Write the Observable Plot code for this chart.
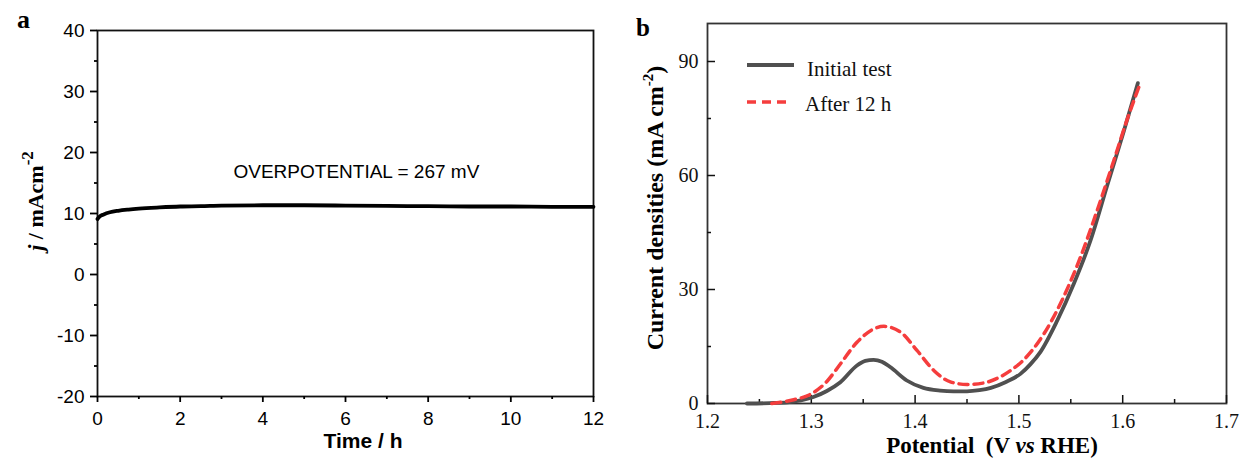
<!DOCTYPE html>
<html><head><meta charset="utf-8">
<script src="https://cdn.jsdelivr.net/npm/d3@7"></script>
<script src="https://cdn.jsdelivr.net/npm/@observablehq/plot@0.6"></script>
<style>
html,body{margin:0;padding:0;background:#fff;}
#wrap{position:relative;width:1243px;height:461px;overflow:hidden;background:#fff;}
#wrap svg{position:absolute;top:0;overflow:visible;}
</style></head><body><div id="wrap"></div>
<script>
// ---- Panel a: chronoamperometry ----
const timeH    = [0, 0.05, 0.15, 0.3, 0.5, 0.75, 1, 1.5, 2, 2.5, 3, 4, 5, 6, 7, 8, 9, 10, 11, 12];
const currentJ = [9.1, 9.5, 9.85, 10.2, 10.45, 10.65, 10.8, 11.0, 11.15, 11.2, 11.3, 11.35, 11.35, 11.3, 11.25, 11.2, 11.15, 11.15, 11.1, 11.1];
const annotationA = "OVERPOTENTIAL = 267 mV";
const xTicksA = [0, 2, 4, 6, 8, 10, 12];
const xMinorA = [1, 3, 5, 7, 9, 11];
const yTicksA = [-20, -10, 0, 10, 20, 30, 40];
const yMinorA = [-15, -5, 5, 15, 25, 35];

// ---- Panel b: LSV curves ----
const seriesNames = ["Initial test", "After 12 h"];
const potInitial = [1.238, 1.26, 1.277, 1.29, 1.302, 1.315, 1.328, 1.344, 1.352, 1.360, 1.368, 1.376, 1.392, 1.408, 1.424, 1.437, 1.450, 1.462, 1.473, 1.487, 1.5015, 1.511, 1.5208, 1.5369, 1.5529, 1.569, 1.585, 1.601, 1.6146];
const curInitial = [0, 0.1, 0.3, 0.8, 1.7, 3.3, 5.6, 10.0, 11.2, 11.5, 11.0, 9.6, 6.05, 4.1, 3.4, 3.2, 3.2, 3.5, 4.1, 5.6, 7.8, 10.3, 13.6, 21.8, 31.5, 42.9, 57.3, 71.6, 84.3];
const potAfter = [1.262, 1.283, 1.299, 1.315, 1.328, 1.344, 1.360, 1.370, 1.386, 1.402, 1.418, 1.434, 1.450, 1.466, 1.479, 1.4915, 1.5047, 1.524, 1.543, 1.5593, 1.5754, 1.5914, 1.604, 1.6155];
const curAfter = [0, 1.0, 2.4, 5.8, 10.4, 16.1, 19.6, 20.3, 18.8, 13.9, 8.7, 5.7, 5.0, 5.4, 6.6, 8.6, 11.5, 18.3, 28, 38.5, 50.8, 63.9, 74.5, 83.2];
const xTicksB = [1.2, 1.3, 1.4, 1.5, 1.6, 1.7];
const xMinorB = [1.25, 1.35, 1.45, 1.55, 1.65];
const yTicksB = [0, 30, 60, 90];
const yMinorB = [15, 45, 75];

const SANS = "'Liberation Sans', Arial, sans-serif";
const SERIF = "'Liberation Serif', 'Times New Roman', serif";
const wrap = document.getElementById("wrap");

// ---------- Panel a ----------
const dataA = timeH.map((t, i) => ({t, j: currentJ[i]}));
const plotA = Plot.plot({
  width: 610, height: 461,
  marginLeft: 97, marginRight: 17, marginTop: 30, marginBottom: 65,
  style: {fontFamily: SANS, fontSize: "19px", color: "#000", background: "transparent", overflow: "visible"},
  x: {domain: [0, 12]},
  y: {domain: [-20, 40]},
  marks: [
    Plot.frame({stroke: "#111", strokeWidth: 1.8}),
    Plot.axisY({ticks: yTicksA, tickSize: 7, tickPadding: 6, tickFormat: d => String(d), label: null, strokeWidth: 1.8}),
    Plot.axisY({ticks: yMinorA, tickSize: 3, tickFormat: () => "", label: null, strokeWidth: 1.8}),
    Plot.axisX({ticks: xTicksA, tickSize: 6, tickPadding: 9, tickFormat: d => String(d), label: null, strokeWidth: 1.8}),
    Plot.axisX({ticks: xMinorA, tickSize: 3, tickFormat: () => "", label: null, strokeWidth: 1.8}),
    Plot.line(dataA, {x: "t", y: "j", stroke: "#000", strokeWidth: 3.8, curve: "monotone-x"}),
    Plot.text([annotationA], {frameAnchor: "top-left", dx: 136, dy: 141, textAnchor: "start", lineAnchor: "middle", fontSize: 19, fill: "#000"})
  ]
});
plotA.style.left = "0px";
wrap.appendChild(plotA);
{
  const s = d3.select(plotA);
  s.append("text").attr("x", 17).attr("y", 28).attr("text-anchor", "start").attr("font-family", SERIF).attr("font-weight", "bold").attr("font-size", 26).attr("fill", "#000").text("a");
  s.append("text").attr("x", 363).attr("y", 448).attr("text-anchor", "middle").attr("font-family", SANS).attr("font-weight", "bold").attr("font-size", 21).attr("fill", "#000").text("Time / h");
  const yl = s.append("text").attr("transform", "translate(43,201) rotate(-90)").attr("text-anchor", "middle")
    .attr("font-family", SERIF).attr("font-weight", "bold").attr("font-size", 22).attr("fill", "#000");
  yl.append("tspan").attr("font-style", "italic").text("j");
  yl.append("tspan").text(" / mAcm");
  yl.append("tspan").attr("font-size", 17).attr("dy", -10).text("-2");
}

// ---------- Panel b ----------
const dataB = [
  ...potInitial.map((p, i) => ({p, c: curInitial[i], s: seriesNames[0]})),
  ...potAfter.map((p, i) => ({p, c: curAfter[i], s: seriesNames[1]}))
];
const plotB = Plot.plot({
  width: 633, height: 461,
  marginLeft: 97, marginRight: 17, marginTop: 23, marginBottom: 58,
  style: {fontFamily: SERIF, fontSize: "20px", color: "#111", background: "transparent", overflow: "visible"},
  x: {domain: [1.2, 1.7]},
  y: {domain: [0, 100]},
  marks: [
    Plot.frame({stroke: "#333", strokeWidth: 1.8}),
    Plot.axisY({ticks: yTicksB, tickSize: -8, tickFormat: () => "", label: null, strokeWidth: 1.5}),
    Plot.axisY({ticks: yMinorB, tickSize: -4, tickFormat: () => "", label: null, strokeWidth: 1.5}),
    Plot.axisY({ticks: yTicksB, tickSize: 0, tickPadding: 9, tickFormat: d => String(d), label: null}),
    Plot.axisX({ticks: xTicksB, tickSize: -8, tickFormat: () => "", label: null, strokeWidth: 1.5}),
    Plot.axisX({ticks: xMinorB, tickSize: -4, tickFormat: () => "", label: null, strokeWidth: 1.5}),
    Plot.axisX({ticks: xTicksB, tickSize: 0, tickPadding: 10, tickFormat: d3.format(".1f"), label: null}),
    Plot.line(dataB.filter(d => d.s === seriesNames[0]), {x: "p", y: "c", stroke: "#505050", strokeWidth: 3.8, curve: "monotone-x"}),
    Plot.line(dataB.filter(d => d.s === seriesNames[1]), {x: "p", y: "c", stroke: "#f53d3d", strokeWidth: 3.5, strokeDasharray: "9,6", curve: "monotone-x"})
  ]
});
plotB.style.left = "610px";
wrap.appendChild(plotB);
{
  const s = d3.select(plotB);
  s.append("text").attr("x", 26).attr("y", 36).attr("text-anchor", "start").attr("font-family", SERIF).attr("font-weight", "bold").attr("font-size", 25).attr("fill", "#000").text("b");
  const xl = s.append("text").attr("x", 382).attr("y", 453).attr("text-anchor", "middle")
    .attr("font-family", SERIF).attr("font-weight", "bold").attr("font-size", 23).attr("fill", "#000");
  xl.append("tspan").text("Potential\u00a0\u00a0(V ");
  xl.append("tspan").attr("font-style", "italic").text("vs");
  xl.append("tspan").text(" RHE)");
  const yl = s.append("text").attr("transform", "translate(53,208) rotate(-90)").attr("text-anchor", "middle")
    .attr("font-family", SERIF).attr("font-weight", "bold").attr("font-size", 24).attr("fill", "#000");
  yl.append("tspan").text("Current densities (mA cm");
  yl.append("tspan").attr("font-size", 15).attr("dy", -10).text("-2");
  yl.append("tspan").attr("dy", 10).text(")");
  // legend
  const lg = s.append("g").attr("font-family", SERIF).attr("font-size", 21).attr("fill", "#111").attr("text-anchor", "start");
  lg.append("line").attr("x1", 137).attr("x2", 184).attr("y1", 65).attr("y2", 65).attr("stroke", "#505050").attr("stroke-width", 3.8);
  lg.append("text").attr("x", 197).attr("y", 76).text(seriesNames[0]);
  lg.append("line").attr("x1", 137).attr("x2", 179).attr("y1", 102).attr("y2", 102).attr("stroke", "#f53d3d").attr("stroke-width", 3.5).attr("stroke-dasharray", "9,6");
  lg.append("text").attr("x", 195).attr("y", 111).text(seriesNames[1]);
}
</script></body></html>
